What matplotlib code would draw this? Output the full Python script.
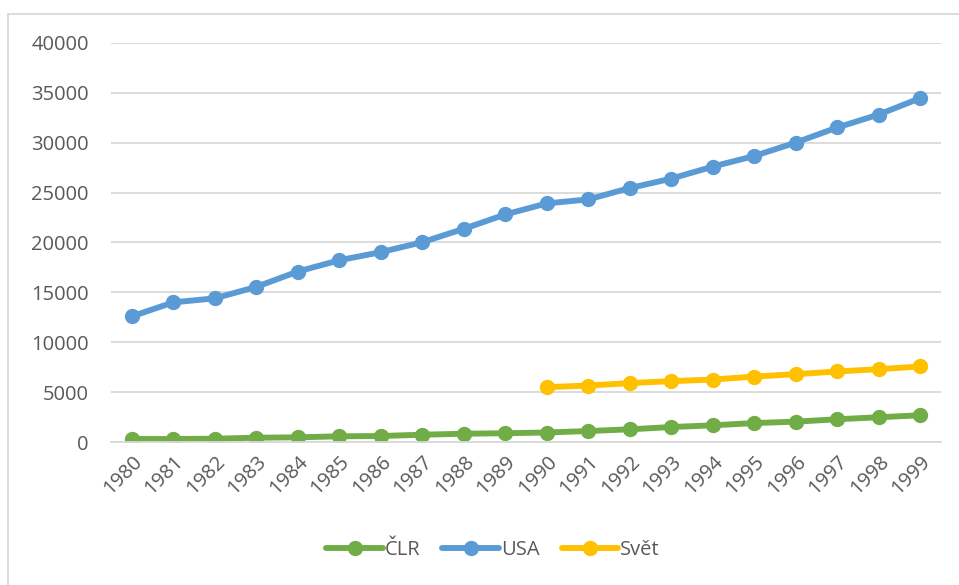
import matplotlib.pyplot as plt
from matplotlib.lines import Line2D

years = [str(y) for y in range(1980, 2000)]

clr = [300, 300, 330, 430, 470, 570, 600, 730, 830, 880,
       950, 1100, 1270, 1500, 1670, 1900, 2040, 2280, 2480, 2680]
usa = [12590, 14000, 14400, 15550, 17090, 18220, 19030, 20030, 21370, 22810,
       23920, 24320, 25460, 26400, 27610, 28670, 30020, 31530, 32830, 34470]
svet_years = years[10:]
svet = [5500, 5660, 5900, 6100, 6260, 6560, 6800, 7070, 7300, 7570]

green = '#70AD47'
blue = '#5B9BD5'
gold = '#FFC000'
text_color = '#595959'

plt.rcParams['font.family'] = ['Open Sans', 'DejaVu Sans']

W, H = 959, 585
fig = plt.figure(figsize=(W / 100, H / 100), dpi=100)
ax = fig.add_axes([111 / W, 1 - 442 / H, (941 - 111) / W, (442 - 43) / H])

x_all = list(range(len(years)))
x_svet = [years.index(y) for y in svet_years]

style = dict(linewidth=4.25, marker='o', markersize=10, solid_capstyle='round')
ax.plot(x_all, clr, color=green, label='ČLR', **style)
ax.plot(x_all, usa, color=blue, label='USA', **style)
ax.plot(x_svet, svet, color=gold, label='Svět', **style)

ax.set_xlim(-0.5, len(years) - 0.5)
ax.set_ylim(0, 40000)
ax.set_yticks(range(0, 40001, 5000))
ax.yaxis.grid(True, color='#D9D9D9', linewidth=1.3)
ax.set_axisbelow(True)
ax.set_xticks(x_all)
ax.set_xticklabels(years, rotation=45, ha='right', rotation_mode='anchor')
ax.tick_params(axis='both', length=0, labelsize=14.5, colors=text_color)
ax.tick_params(axis='y', pad=16)
ax.tick_params(axis='x', pad=7)
for s in ['top', 'right', 'left']:
    ax.spines[s].set_visible(False)
ax.spines['bottom'].set_color('#D9D9D9')
ax.spines['bottom'].set_linewidth(1.3)

leg = fig.legend(loc='center', bbox_to_anchor=(493 / W, 1 - 550 / H), ncol=3,
                 frameon=False, fontsize=14.5, handlelength=2.8, handletextpad=0.1,
                 columnspacing=1.1, labelcolor=text_color)

# chart border (only top and left visible in the crop)
fig.add_artist(Line2D([8 / W, 8 / W], [0, 1 - 14 / H], color='#D9D9D9',
                      linewidth=1.3, transform=fig.transFigure))
fig.add_artist(Line2D([8 / W, 1], [1 - 14 / H, 1 - 14 / H], color='#D9D9D9',
                      linewidth=1.3, transform=fig.transFigure))

fig.savefig('out.png', dpi=100)
